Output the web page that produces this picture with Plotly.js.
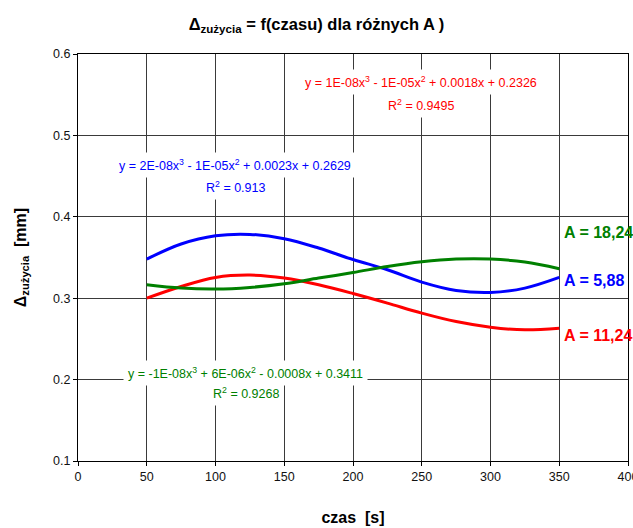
<!DOCTYPE html>
<html>
<head>
<meta charset="utf-8">
<script src="https://cdn.plot.ly/plotly-3.0.1.min.js"></script>
<style>html,body{margin:0;padding:0;background:#fff;overflow:hidden;}#chart{width:633px;height:528px;}</style>
</head>
<body>
<div id="chart"></div>
<script>
// time [s]
const czas = [50, 75, 100, 125, 150, 175, 200, 225, 250, 275, 300, 325, 350];
// wear values [mm] for each A
const zuzycieA588 = [0.348, 0.3666, 0.3767, 0.3784, 0.3731, 0.3616, 0.3475, 0.335, 0.3198, 0.3095, 0.307, 0.3124, 0.3255];
const zuzycieA1124 = [0.300, 0.3144, 0.3255, 0.3284, 0.3247, 0.3165, 0.3058, 0.294, 0.2817, 0.2713, 0.2644, 0.2611, 0.2632];
const zuzycieA1824 = [0.3165, 0.3124, 0.3112, 0.3132, 0.3177, 0.3247, 0.3315, 0.339, 0.3448, 0.3481, 0.3481, 0.3444, 0.3362];

const seriesNames = ["A = 5,88", "A = 11,24", "A = 18,24"];
const equations = [
  "y = 2E-08x<sup>3</sup> - 1E-05x<sup>2</sup> + 0.0023x + 0.2629",
  "y = 1E-08x<sup>3</sup> - 1E-05x<sup>2</sup> + 0.0018x + 0.2326",
  "y = -1E-08x<sup>3</sup> + 6E-06x<sup>2</sup> - 0.0008x + 0.3411"
];
const r2Labels = ["R<sup>2</sup> = 0.913", "R<sup>2</sup> = 0.9495", "R<sup>2</sup> = 0.9268"];
const xTicks = [0, 50, 100, 150, 200, 250, 300, 350, 400];
const yTicks = [0.1, 0.2, 0.3, 0.4, 0.5, 0.6];

const colors = ["#0000ff", "#ff0000", "#008000"];
const FONT = "Liberation Sans, Arial, sans-serif";
const seriesData = [zuzycieA588, zuzycieA1124, zuzycieA1824];

const traces = seriesData.map((ys, i) => ({
  x: czas, y: ys, type: "scatter", mode: "lines", name: seriesNames[i],
  line: {color: colors[i], width: 3, shape: "spline", smoothing: 1},
  hoverinfo: "skip"
}));

// label placements (data coords)
const eqPos = [[114.5, 0.4641], [249.5, 0.565], [121.8, 0.2082]];
const r2Pos = [[114.9, 0.437], [249.4, 0.5379], [122.2, 0.1836]];
const namePos = [[352, 0.3214], [352, 0.2538], [352, 0.3804]];

const annotations = [];
for (let i = 0; i < 3; i++) {
  annotations.push({x: eqPos[i][0], y: eqPos[i][1], xref: "x", yref: "y", text: equations[i], showarrow: false,
    font: {family: FONT, size: 12.5, color: colors[i]}, bgcolor: "#ffffff", borderpad: 4, xanchor: "center", yanchor: "middle"});
  annotations.push({x: r2Pos[i][0], y: r2Pos[i][1], xref: "x", yref: "y", text: r2Labels[i], showarrow: false,
    font: {family: FONT, size: 12.5, color: colors[i]}, bgcolor: "#ffffff", borderpad: 4, xanchor: "center", yanchor: "middle"});
  annotations.push({x: namePos[i][0], y: namePos[i][1], xref: "x", yref: "y", text: "<b>" + seriesNames[i] + "</b>", showarrow: false,
    font: {family: FONT, size: 16, color: colors[i]}, xanchor: "left", yanchor: "middle"});
}

const layout = {
  width: 633, height: 528,
  paper_bgcolor: "#ffffff", plot_bgcolor: "#ffffff",
  margin: {l: 78, r: 5, t: 54, b: 67, pad: 0},
  showlegend: false,
  font: {family: FONT, color: "#000"},
  title: {text: "<b>Δ<sub>zużycia</sub> = f(czasu) dla różnych A )</b>", font: {family: FONT, size: 16.5, color: "#000"},
    x: 0.5, xref: "container", y: 0.955, yref: "container", xanchor: "center", yanchor: "middle"},
  xaxis: {
    range: [0, 400], tickvals: xTicks, ticktext: xTicks.map(String),
    showgrid: true, gridcolor: "#3a3a3a", gridwidth: 1, zeroline: false,
    showline: true, linecolor: "#000", linewidth: 1, mirror: true,
    ticks: "outside", ticklen: 4, tickcolor: "#000", ticklabeloverflow: "allow",
    tickfont: {family: FONT, size: 12.5, color: "#111"},
    title: {text: "<b>czas\u00A0\u00A0[s]</b>", font: {family: FONT, size: 16, color: "#000"}, standoff: 28}
  },
  yaxis: {
    range: [0.1, 0.6], tickvals: yTicks, ticktext: yTicks.map(v => v.toFixed(1)),
    showgrid: true, gridcolor: "#3a3a3a", gridwidth: 1, zeroline: false,
    showline: true, linecolor: "#000", linewidth: 1, mirror: true,
    ticks: "outside", ticklen: 4, tickcolor: "#000",
    tickfont: {family: FONT, size: 12.5, color: "#111"},
    title: {text: "<b>Δ<sub>zużycia</sub>\u00A0\u00A0[mm]</b>", font: {family: FONT, size: 16, color: "#000"}, standoff: 22}
  },
  annotations: annotations
};

Plotly.newPlot("chart", traces, layout, {displayModeBar: false, staticPlot: true});
</script>
</body>
</html>
